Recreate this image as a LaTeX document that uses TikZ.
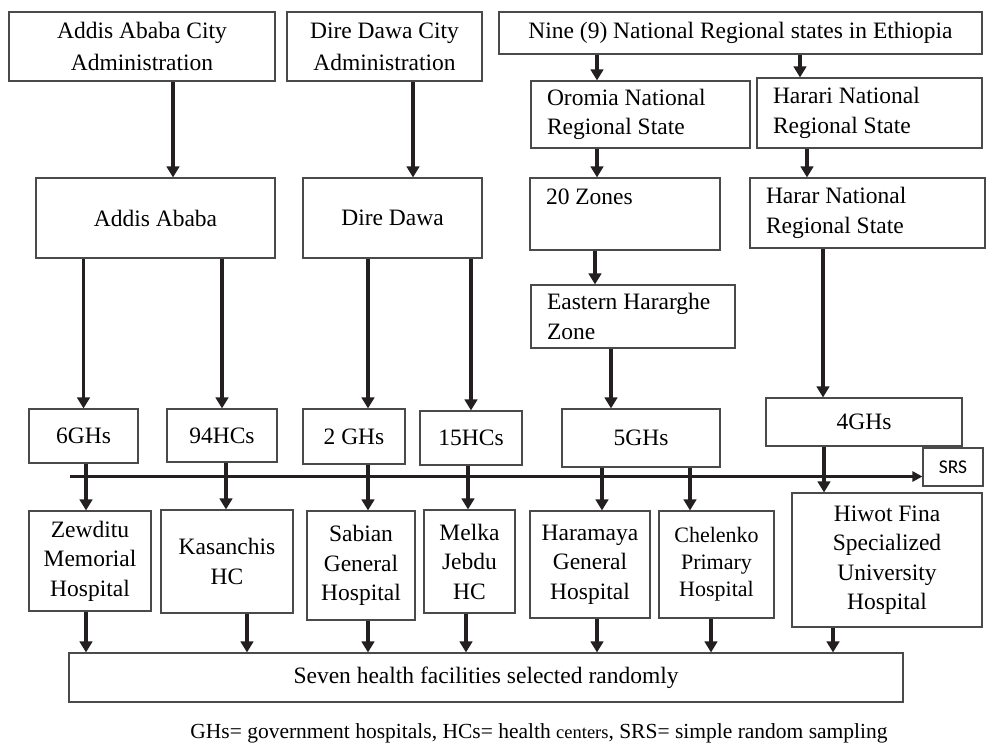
\documentclass[tikz,border=0pt]{standalone}
\usepackage{fontspec}
\usepackage{tikz}
\usetikzlibrary{arrows.meta}
\setmainfont{Liberation Serif}
\newfontfamily\srsfont{Carlito}
\definecolor{boxgray}{HTML}{4A4A4A}
\definecolor{arrowdark}{HTML}{231F20}

\begin{document}
\begin{tikzpicture}[x=1pt, y=-1pt,
    box/.style={draw=boxgray, line width=1.1pt, inner sep=2pt, align=flush center,
                font=\fontsize{23.5}{29.5}\selectfont},
    leftbox/.style={box, align=flush left, inner xsep=16pt},
    arr/.style={arrowdark, line width=3.6pt, -{Triangle[length=11pt,width=12.5pt]}},
    srsarr/.style={arrowdark, line width=2.4pt, -{Triangle[length=10pt,width=10pt]}}]
          \useasboundingbox (0,0) rectangle (990,744);

          % Administrations and regional states
          \node[box, minimum width=266pt, minimum height=69pt, font=\fontsize{23.5}{32}\selectfont] (aaAdmin) at (142,46.5) {Addis Ababa City\\Administration};
          \node[box, minimum width=195pt, minimum height=69pt, font=\fontsize{23.5}{32}\selectfont] (ddAdmin) at (384.5,46.5) {Dire Dawa City\\Administration};
          \node[box, minimum width=483pt, minimum height=42pt] (nine) at (740.5,33) {Nine (9) National Regional states in Ethiopia};
          \node[leftbox, text width=187pt, minimum height=67pt] (oromia) at (640.5,114.5) {Oromia National\\Regional State};
          \node[leftbox, text width=193pt, minimum height=70pt] (harari) at (869.5,113) {Harari National\\Regional State};

          % Cities, zones
          \node[box, minimum width=239pt, minimum height=80pt] (addis) at (155.5,218) {Addis Ababa};
          \node[box, minimum width=179pt, minimum height=80pt] (dire) at (392.5,218) {Dire Dawa};
          \node[leftbox, text width=158pt, minimum height=72pt, text depth=34pt] (zones) at (625,214) {20 Zones};
          \node[leftbox, text width=203pt, minimum height=70pt] (hararNrs) at (867.5,213) {Harar National\\Regional State};
          \node[leftbox, text width=172pt, minimum height=63pt] (eastern) at (633,316.5) {Eastern Hararghe\\Zone};

          % Number of facilities
          \node[box, minimum width=109pt, minimum height=54pt] (gh6) at (83.5,436) {6GHs};
          \node[box, minimum width=110pt, minimum height=53pt] (hc94) at (222,435.5) {94HCs};
          \node[box, minimum width=102pt, minimum height=55pt] (gh2) at (354,436.5) {2 GHs};
          \node[box, minimum width=102pt, minimum height=54pt] (hc15) at (471,438) {15HCs};
          \node[box, minimum width=158pt, minimum height=58pt] (gh5) at (641,438) {5GHs};
          \node[box, minimum width=196pt, minimum height=48pt] (gh4) at (864,422) {4GHs};
          \node[box, minimum width=60pt, minimum height=38pt, font=\srsfont\fontsize{19.5}{22}\selectfont] (srs) at (953,467) {SRS};

          % Selected facilities
          \node[box, minimum width=122pt, minimum height=100pt] (zewditu) at (90,561) {Zewditu\\Memorial\\Hospital};
          \node[box, minimum width=132pt, minimum height=103pt] (kasanchis) at (227,561.5) {Kasanchis\\HC};
          \node[box, minimum width=108pt, minimum height=109pt] (sabian) at (361,565.5) {Sabian\\General\\Hospital};
          \node[box, minimum width=91pt, minimum height=103pt] (melka) at (469.5,561.5) {Melka\\Jebdu\\HC};
          \node[box, minimum width=120pt, minimum height=107pt] (haramaya) at (590,564.5) {Haramaya\\General\\Hospital};
          \node[box, minimum width=115pt, minimum height=107pt, font=\fontsize{22}{27}\selectfont] (chelenko) at (716.5,564.5) {Chelenko\\Primary\\Hospital};
          \node[box, minimum width=190pt, minimum height=134pt] (hiwot) at (887,560) {Hiwot Fina\\Specialized\\University\\Hospital};
          \node[box, minimum width=834pt, minimum height=49pt] (seven) at (486,677.5) {Seven health facilities selected randomly};

          % Abbreviations
          \node[font=\fontsize{21.5}{24}\selectfont] (note) at (539,733) {GHs= government hospitals, HCs= health {\fontsize{18.5}{20}\selectfont centers}, SRS= simple random sampling};

          % Sampling line
          \coordinate (srsStart) at (70,476.5);
          \draw[srsarr] (srsStart) -- (srsStart -| srs.west);

          % Arrows down to cities and zones
          \draw[arr] ([xshift=31pt]aaAdmin.south) -- ([xshift=31pt]aaAdmin.south |- addis.north);
          \draw[arr] ([xshift=28.5pt]ddAdmin.south) -- ([xshift=28.5pt]ddAdmin.south |- dire.north);
          \draw[arr] ([xshift=-143.5pt]nine.south) -- ([xshift=-143.5pt]nine.south |- oromia.north);
          \draw[arr] ([xshift=59.5pt]nine.south) -- ([xshift=59.5pt]nine.south |- harari.north);
          \draw[arr] ([xshift=-43.5pt]oromia.south) -- ([xshift=-43.5pt]oromia.south |- zones.north);
          \draw[arr] ([xshift=-62.5pt]harari.south) -- ([xshift=-62.5pt]harari.south |- hararNrs.north);
          \draw[arr] ([xshift=-30pt]zones.south) -- ([xshift=-30pt]zones.south |- eastern.north);

          % Arrows down to number of facilities
          \draw[arr] (addis.south -| gh6.north) -- (gh6.north);
          \draw[arr] (addis.south -| hc94.north) -- (hc94.north);
          \draw[arr] ([xshift=14pt]gh2.north |- dire.south) -- ([xshift=14pt]gh2.north);
          \draw[arr] (dire.south -| hc15.north) -- (hc15.north);
          \draw[arr] ([xshift=-22pt]eastern.south) -- ([xshift=-22pt]eastern.south |- gh5.north);
          \draw[arr] ([xshift=-44.5pt]hararNrs.south) -- ([xshift=-44.5pt]hararNrs.south |- gh4.north);

          % Arrows down to selected facilities
          \draw[arr] ([xshift=2.5pt]gh6.south) -- ([xshift=2.5pt]gh6.south |- zewditu.north);
          \draw[arr] ([xshift=4pt]hc94.south) -- ([xshift=4pt]hc94.south |- kasanchis.north);
          \draw[arr] ([xshift=14pt]gh2.south) -- ([xshift=14pt]gh2.south |- sabian.north);
          \draw[arr] ([xshift=-3pt]hc15.south) -- ([xshift=-3pt]hc15.south |- melka.north);
          \draw[arr] ([xshift=-39pt]gh5.south) -- ([xshift=-39pt]gh5.south |- haramaya.north);
          \draw[arr] ([xshift=49pt]gh5.south) -- ([xshift=49pt]gh5.south |- chelenko.north);
          \draw[arr] ([xshift=-40pt]gh4.south) -- ([xshift=-40pt]gh4.south |- hiwot.north);

          % Arrows down to the seven facilities
          \draw[arr] ([xshift=-4pt]zewditu.south) -- ([xshift=-4pt]zewditu.south |- seven.north);
          \draw[arr] ([xshift=20pt]kasanchis.south) -- ([xshift=20pt]kasanchis.south |- seven.north);
          \draw[arr] ([xshift=7pt]sabian.south) -- ([xshift=7pt]sabian.south |- seven.north);
          \draw[arr] ([xshift=-3.5pt]melka.south) -- ([xshift=-3.5pt]melka.south |- seven.north);
          \draw[arr] ([xshift=7pt]haramaya.south) -- ([xshift=7pt]haramaya.south |- seven.north);
          \draw[arr] ([xshift=-5.5pt]chelenko.south) -- ([xshift=-5.5pt]chelenko.south |- seven.north);
          \draw[arr] ([xshift=-54pt]hiwot.south) -- ([xshift=-54pt]hiwot.south |- seven.north);

        \end{tikzpicture}
\end{document}
